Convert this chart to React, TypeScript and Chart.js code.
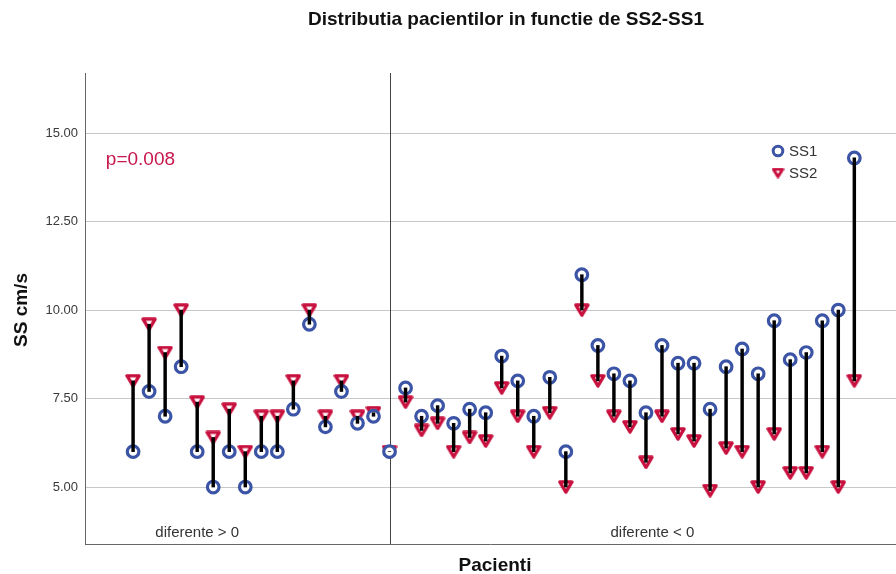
import { useEffect, useRef } from "react";
import { Chart, registerables } from "chart.js";

Chart.register(...registerables);

// Patient index along the x axis
const patients = [
  1, 2, 3, 4, 5, 6, 7, 8, 9, 10, 11, 12, 13, 14, 15, 16, 17, 18, 19, 20, 21, 22, 23,
  24, 25, 26, 27, 28, 29, 30, 31, 32, 33, 34, 35, 36, 37, 38, 39, 40, 41, 42, 43, 44, 45, 46,
];

// SS1 (first measurement), cm/s
const ss1 = [
  6.0, 7.7, 7.0, 8.4, 6.0, 5.0, 6.0, 5.0, 6.0, 6.0, 7.2, 9.6, 6.7, 7.7, 6.8, 7.0, 6.0,
  7.8, 7.0, 7.3, 6.8, 7.2, 7.1, 8.7, 8.0, 7.0, 8.1, 6.0, 11.0, 9.0, 8.2, 8.0, 7.1, 9.0,
  8.5, 8.5, 7.2, 8.4, 8.9, 8.2, 9.7, 8.6, 8.8, 9.7, 10.0, 14.3,
];

// SS2 (second measurement), cm/s
const ss2 = [
  8.0, 9.6, 8.8, 10.0, 7.4, 6.4, 7.2, 6.0, 7.0, 7.0, 8.0, 10.0, 7.0, 8.0, 7.0, 7.1, 6.0,
  7.4, 6.6, 6.8, 6.0, 6.4, 6.3, 7.8, 7.0, 6.0, 7.1, 5.0, 10.0, 8.0, 7.0, 6.7, 5.7, 7.0,
  6.5, 6.3, 4.9, 6.1, 6.0, 5.0, 6.5, 5.4, 5.4, 6.0, 5.0, 8.0,
];

const yTicks = [5, 7.5, 10, 12.5, 15];
const yRange = [3.39, 16.7];
const xRange = [-2, 48.6];

// Boundary between the two groups and the group captions
const splitAt = 17;
const groupLabels = ["diferente > 0", "diferente < 0"];
const groupLabelAt = [5, 33.4];

const pValueText = "p=0.008";
const pValueAt = [-0.7, 14.24];

const titleText = "Distributia pacientilor in functie de SS2-SS1";
const xTitle = "Pacienti";
const yTitle = "SS cm/s";
const seriesNames = ["SS1", "SS2"];

const BLUE = "#3b54a5";
const RED = "#c8103e";
const FONT = "'Liberation Sans', Arial, sans-serif";

function makeTriangle(w: number, h: number, lw: number): HTMLCanvasElement {
  const c = document.createElement("canvas");
  c.width = w;
  c.height = h;
  const ctx = c.getContext("2d")!;
  const m = lw / 2 + 0.3;
  ctx.beginPath();
  ctx.moveTo(m, m);
  ctx.lineTo(w - m, m);
  ctx.lineTo(w / 2, h - m);
  ctx.closePath();
  ctx.fillStyle = "#fff";
  ctx.fill();
  ctx.lineJoin = "round";
  ctx.lineWidth = lw;
  ctx.strokeStyle = RED;
  ctx.stroke();
  return c;
}

export default function App() {
  const ref = useRef<HTMLCanvasElement | null>(null);

  useEffect(() => {
    if (!ref.current) return;
    const tri = makeTriangle(16, 14, 3.3);
    const triSmall = makeTriangle(13, 11, 3.0);

    const overlay = {
      id: "overlay",
      beforeDatasetsDraw(chart: any) {
        const { ctx, chartArea, scales } = chart;
        const x = scales.x.getPixelForValue(splitAt);
        ctx.save();
        ctx.strokeStyle = "#444";
        ctx.lineWidth = 1;
        ctx.beginPath();
        ctx.moveTo(Math.round(x) + 0.5, chartArea.top);
        ctx.lineTo(Math.round(x) + 0.5, chartArea.bottom);
        ctx.stroke();
        ctx.restore();
      },
      afterDraw(chart: any) {
        const { ctx, chartArea, scales } = chart;
        ctx.save();
        // bottom axis line
        ctx.strokeStyle = "#666";
        ctx.lineWidth = 1;
        ctx.beginPath();
        ctx.moveTo(chartArea.left, Math.round(chartArea.bottom) + 0.5);
        ctx.lineTo(chartArea.right, Math.round(chartArea.bottom) + 0.5);
        ctx.stroke();

        // chart title
        ctx.fillStyle = "#111";
        ctx.font = `bold 19px ${FONT}`;
        ctx.textAlign = "center";
        ctx.textBaseline = "middle";
        ctx.fillText(titleText, 506, 20);

        // axis titles
        ctx.font = `bold 19px ${FONT}`;
        ctx.fillText(xTitle, 495, 566);
        ctx.save();
        ctx.translate(22, 310);
        ctx.rotate(-Math.PI / 2);
        ctx.fillText(yTitle, 0, 0);
        ctx.restore();

        // group captions
        ctx.font = `15px ${FONT}`;
        ctx.fillStyle = "#333";
        groupLabels.forEach((t, i) => {
          ctx.fillText(t, scales.x.getPixelForValue(groupLabelAt[i]), chartArea.bottom - 11);
        });

        // p value
        ctx.font = `19px ${FONT}`;
        ctx.fillStyle = "#c8174c";
        ctx.textAlign = "left";
        ctx.fillText(pValueText, scales.x.getPixelForValue(pValueAt[0]), scales.y.getPixelForValue(pValueAt[1]));

        // legend
        const lx = 778;
        const ly = [151, 173];
        ctx.strokeStyle = BLUE;
        ctx.lineWidth = 3;
        ctx.beginPath();
        ctx.arc(lx, ly[0], 4.8, 0, Math.PI * 2);
        ctx.fillStyle = "#fff";
        ctx.fill();
        ctx.stroke();
        ctx.drawImage(triSmall, lx - triSmall.width / 2, ly[1] - triSmall.height / 2);
        ctx.fillStyle = "#333";
        ctx.font = `15px ${FONT}`;
        ctx.fillText(seriesNames[0], lx + 11, ly[0] + 1);
        ctx.fillText(seriesNames[1], lx + 11, ly[1] + 1);
        ctx.restore();
      },
    };

    const chart = new Chart(ref.current, {
      type: "bar",
      data: {
        datasets: [
          {
            type: "bar",
            label: "SS2-SS1",
            data: patients.map((p, i) => ({ x: p, y: [ss1[i], ss2[i]] })) as any,
            backgroundColor: "#000",
            borderWidth: 0,
            barThickness: 2.8,
            grouped: false,
            order: 0,
          } as any,
          {
            type: "scatter",
            label: seriesNames[0],
            data: patients.map((p, i) => ({ x: p, y: ss1[i] })),
            pointStyle: "circle",
            pointRadius: 5.8,
            pointBorderWidth: 3.2,
            pointBorderColor: BLUE,
            pointBackgroundColor: "#fff",
            showLine: false,
            order: 1,
          } as any,
          {
            type: "scatter",
            label: seriesNames[1],
            data: patients.map((p, i) => ({ x: p, y: ss2[i] })),
            pointStyle: tri,
            pointRadius: 6,
            showLine: false,
            order: 2,
          } as any,
        ],
      },
      options: {
        animation: false,
        responsive: false,
        events: [],
        layout: { autoPadding: false, padding: { top: 73, bottom: 30, left: 0, right: 0 } },
        plugins: {
          legend: { display: false },
          title: { display: false },
          tooltip: { enabled: false },
        },
        scales: {
          x: {
            type: "linear",
            display: false,
            offset: false,
            min: xRange[0],
            max: xRange[1],
          },
          y: {
            type: "linear",
            position: "left",
            min: yRange[0],
            max: yRange[1],
            afterFit: (s: any) => {
              s.width = 85;
            },
            afterBuildTicks: (s: any) => {
              s.ticks = yTicks.map((v) => ({ value: v }));
            },
            ticks: {
              padding: 7,
              color: "#3a3a3a",
              font: { family: FONT, size: 13 },
              callback: (v: any) => Number(v).toFixed(2),
            },
            grid: { color: "#c8c8c8", lineWidth: 1, drawTicks: false },
            border: { display: true, color: "#666", width: 1 },
          },
        },
      } as any,
      plugins: [overlay],
    });

    return () => chart.destroy();
  }, []);

  return (
    <div style={{ position: "fixed", left: 0, top: 0, width: 896, height: 574, background: "#fff" }}>
      <canvas ref={ref} width={896} height={574} style={{ width: 896, height: 574, display: "block" }} />
    </div>
  );
}
